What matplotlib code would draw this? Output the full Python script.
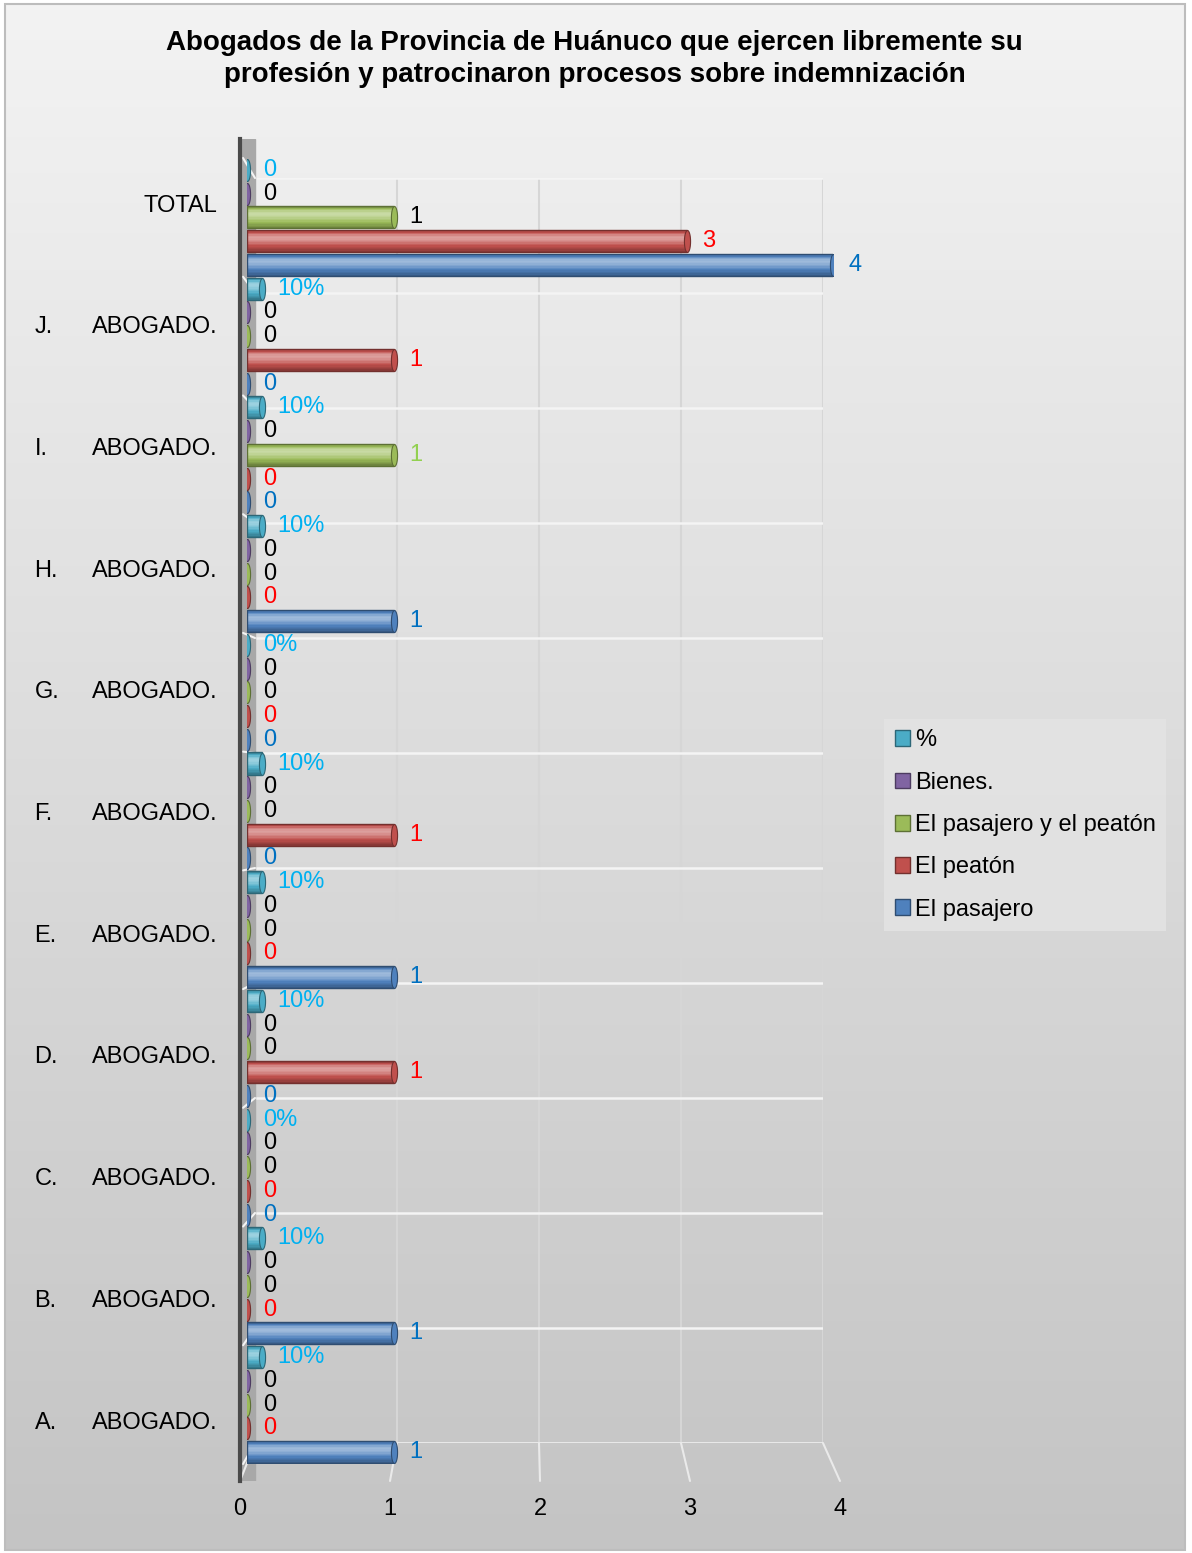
import numpy as np
import matplotlib.pyplot as plt
from matplotlib.patches import Patch, Rectangle, ConnectionPatch
from matplotlib.path import Path
from matplotlib.transforms import blended_transform_factory
from matplotlib.colors import to_rgb

plt.rcParams['font.family'] = ['Liberation Sans', 'DejaVu Sans']

# datos (de abajo hacia arriba)
letras = ['A.', 'B.', 'C.', 'D.', 'E.', 'F.', 'G.', 'H.', 'I.', 'J.', '']
nombres = ['ABOGADO.'] * 10 + ['TOTAL']

pasajero = [1, 1, 0, 0, 1, 0, 0, 1, 0, 0, 4]
peaton = [0, 0, 0, 1, 0, 1, 0, 0, 0, 1, 3]
pasajero_peaton = [0, 0, 0, 0, 0, 0, 0, 0, 1, 0, 1]
bienes = [0, 0, 0, 0, 0, 0, 0, 0, 0, 0, 0]
porcentaje = [0.1, 0.1, 0, 0.1, 0.1, 0.1, 0, 0.1, 0.1, 0.1, 0]
etiq_porcentaje = ['10%', '10%', '0%', '10%', '10%', '10%', '0%', '10%', '10%', '10%', '0']

col_ppe = ['black'] * 8 + ['#92D050'] + ['black', 'black']

# series: nombre, valores, etiquetas, color base, color etiqueta
series = [
    ('El pasajero', pasajero, [str(v) for v in pasajero], '#4F81BD', '#0070C0'),
    ('El peatón', peaton, [str(v) for v in peaton], '#C0504D', '#FF0000'),
    ('El pasajero y el peatón', pasajero_peaton, [str(v) for v in pasajero_peaton], '#9BBB59', col_ppe),
    ('Bienes.', bienes, [str(v) for v in bienes], '#8064A2', 'black'),
    ('%', porcentaje, etiq_porcentaje, '#4BACC6', '#00B0F0'),
]

W, H = 1192, 1553
fs = 17
fig = plt.figure(figsize=(W / 100, H / 100), dpi=100, facecolor='white')


def caja(x0, y0, x1, y1):
    return [x0 / W, 1 - y1 / H, (x1 - x0) / W, (y1 - y0) / H]


# fondo degradado
ax_bg = fig.add_axes(caja(5, 4, 1185, 1550), zorder=-10)
grad = np.linspace(0, 1, 256).reshape(-1, 1)
top, bot = np.array(to_rgb('#F3F3F3')), np.array(to_rgb('#C4C4C4'))
img = top + (bot - top) * grad[:, :, None]
ax_bg.imshow(img, aspect='auto', extent=(0, 1, 0, 1))
ax_bg.axis('off')
fig.add_artist(Rectangle((5 / W, 1 - 1550 / H), 1180 / W, 1546 / H, transform=fig.transFigure,
                         fill=False, edgecolor='#BDBDBD', lw=1.5))

n = len(nombres)

# pared del fondo con la cuadrícula
ax_wall = fig.add_axes(caja(255, 178, 823, 1443))
ax_wall.set_xlim(0, 4)
ax_wall.set_ylim(0, n)
ax_wall.patch.set_visible(False)
ax_wall.set_xticks(range(1, 5))
ax_wall.set_yticks(range(n + 1))
ax_wall.xaxis.grid(True, color='#D6D6D6', lw=1.5)
ax_wall.yaxis.grid(True, color='#F4F4F4', lw=1.8)
ax_wall.tick_params(length=0, labelbottom=False, labelleft=False)
for s in ax_wall.spines.values():
    s.set_visible(False)

# eje frontal: etiquetas de categorías y del eje x
ax_fl = fig.add_axes(caja(240, 139, 840, 1481))
ax_fl.set_xlim(0, 4)
ax_fl.set_ylim(-0.501, 10.526)
ax_fl.patch.set_visible(False)
ax_fl.set_xticks(range(5))
ax_fl.set_xticklabels([str(i) for i in range(5)], fontsize=fs)
ax_fl.set_yticks(range(n))
ax_fl.set_yticklabels(nombres, fontsize=fs)
ax_fl.tick_params(axis='x', length=0, pad=12)
ax_fl.tick_params(axis='y', length=0, pad=16)
for k in ['top', 'right', 'bottom']:
    ax_fl.spines[k].set_visible(False)
ax_fl.spines['left'].set_color('#4A4A4A')
ax_fl.spines['left'].set_linewidth(3)
ax_fl.axvspan(0, 0.1, color='#A8A8A8', zorder=0)
for i, l in enumerate(letras):
    ax_fl.text(-1.37, i, l, fontsize=fs, ha='left', va='center_baseline')

# barras
ax = fig.add_axes(caja(247, 158, 833, 1464))
ax.set_xlim(0, 4)
ax.set_ylim(-0.5, 5 * n - 0.5)
ax.axis('off')

# lineas del suelo
for k in range(5):
    con = ConnectionPatch(xyA=(k, 0), coordsA=ax_wall.transData, xyB=(k, -0.501),
                          coordsB=ax_fl.transData, color='#EAEAEA', lw=1.5)
    con.set_clip_on(False)
    ax_fl.add_artist(con)
mix_tr = blended_transform_factory(ax_fl.transData, ax.transData)
for g in range(n + 1):
    con = ConnectionPatch(xyA=(0, g), coordsA=ax_wall.transData, xyB=(0.02, 5 * g - 0.5),
                          coordsB=mix_tr, color='#F4F4F4', lw=1.5)
    con.set_clip_on(False)
    ax_fl.add_artist(con)

t = np.linspace(0, 2 * np.pi, 40)
elipse = Path(np.column_stack([0.28 * np.cos(t), np.sin(t)]))

alto = 0.93
m = 16
for j, (nom, vals, etiq, c, ce) in enumerate(series):
    y = np.arange(n) * 5 + j
    base = np.array(to_rgb(c))
    oscuro = base * 0.68
    claro = base + (1 - base) * 0.45
    for s in range(m):
        tt = -1 + (2 * s + 1) / m
        d = tt - 0.3
        if d > 0:
            k = 1 - (d / 0.7) ** 2 * 0.9
        else:
            k = 1 - (-d / 1.3) ** 1.5
        k = np.clip(k, 0, 1)
        col = (oscuro * (1 - k / 0.6) + base * k / 0.6) if k < 0.6 else (base * (1 - (k - 0.6) / 0.4) + claro * (k - 0.6) / 0.4)
        ax.barh(y - alto / 2 + alto * (s + 0.5) / m, vals, height=alto / m, color=col, lw=0, zorder=2)
    ax.barh(y, vals, height=alto, fill=False, edgecolor=base * 0.6, lw=1, zorder=3)
    ax.scatter(vals, y, marker=elipse, s=250, color=base, edgecolor=base * 0.6,
               lw=0.8, zorder=4)
    cols = ce if isinstance(ce, list) else [ce] * n
    for v, yy, e, cc in zip(vals, y, etiq, cols):
        ax.annotate(e, (v, yy), xytext=(11.5, 0), textcoords='offset points',
                    ha='left', va='center', fontsize=fs, color=cc, zorder=5)

# leyenda
handles = [Patch(facecolor=s[3], edgecolor=np.array(to_rgb(s[3])) * 0.6, label=s[0])
           for s in series[::-1]]
leg = fig.legend(handles=handles, loc='center left', bbox_to_anchor=(884 / W, 1 - 825 / H),
                 fontsize=fs, frameon=True, fancybox=False, handlelength=0.65, handleheight=0.65,
                 handletextpad=0.2, labelspacing=0.86, borderpad=0.45, borderaxespad=0)
leg.get_frame().set_facecolor('#E4E4E4')
leg.get_frame().set_edgecolor('none')

fig.text(0.499, 1 - 59 / H,
         'Abogados de la Provincia de Huánuco que ejercen libremente su\n'
         'profesión y patrocinaron procesos sobre indemnización',
         ha='center', va='center', fontsize=20, fontweight='bold', linespacing=1.3)

fig.savefig('out.png', dpi=100, facecolor='white')
